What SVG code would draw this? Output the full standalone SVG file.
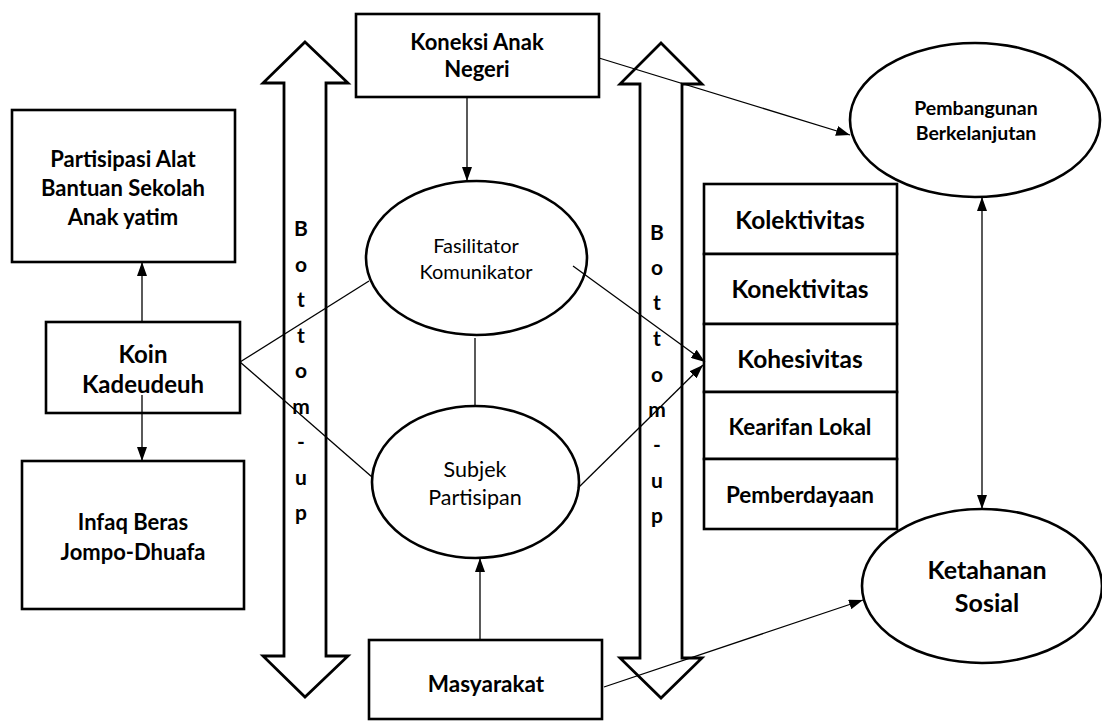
<svg xmlns="http://www.w3.org/2000/svg" width="1102" height="722" viewBox="0 0 1102 722">
<defs>
<style>
.box{fill:#fff;stroke:#000;stroke-width:2.6}
.ell{fill:#fff;stroke:#000;stroke-width:2.6}
.big{fill:#fff;stroke:#000;stroke-width:2.8;stroke-linejoin:miter}
.ln{fill:none;stroke:#000;stroke-width:1.3}
.t{font-family:Lato,"Liberation Sans",sans-serif;font-weight:bold;fill:#000;text-anchor:middle}
.r{font-family:Lato,"Liberation Sans",sans-serif;font-weight:normal;fill:#000;text-anchor:middle}
</style>
<marker id="ah" viewBox="0 0 14 10" refX="14" refY="5" markerWidth="14" markerHeight="10" markerUnits="userSpaceOnUse" orient="auto-start-reverse">
<path d="M0,0 L14,5 L0,10 Z" fill="#000"/>
</marker>
</defs>
<rect width="1102" height="722" fill="#fff"/>

<g id="bottomup-left">
<polygon class="big" points="305,42 348,83 326,83 326,656 348,656 305,697 263,656 284,656 284,83 263,83"/>
<g class="t" font-size="21">
<text x="301" y="236">B</text><text x="301" y="272">o</text><text x="301" y="307">t</text><text x="301" y="343">t</text><text x="301" y="378">o</text><text x="301" y="414">m</text><text x="301" y="449">-</text><text x="301" y="485">u</text><text x="301" y="520">p</text>
</g>
</g>
<g id="bottomup-right">
<polygon class="big" points="661,43 702,84 682,84 682,658 702,658 661,698 620,658 640,658 640,84 620,84"/>
<g class="t" font-size="21">
<text x="657" y="240">B</text><text x="657" y="275">o</text><text x="657" y="310">t</text><text x="657" y="346">t</text><text x="657" y="382">o</text><text x="657" y="417">m</text><text x="657" y="452">-</text><text x="657" y="488">u</text><text x="657" y="523">p</text>
</g>
</g>

<g id="koneksi">
<rect class="box" x="356" y="14" width="243" height="83"/>
<text class="t" font-size="22" x="477" y="50">Koneksi Anak</text>
<text class="t" font-size="22" x="477" y="77">Negeri</text>
</g>
<g id="partisipasi">
<rect class="box" x="12" y="110" width="223" height="152"/>
<text class="t" font-size="22" x="123" y="167">Partisipasi Alat</text>
<text class="t" font-size="22" x="123" y="196">Bantuan Sekolah</text>
<text class="t" font-size="22" x="123" y="225">Anak yatim</text>
</g>
<g id="koin">
<rect class="box" x="46" y="322" width="194" height="91"/>
<text class="t" font-size="24" x="143" y="363">Koin</text>
<text class="t" font-size="24" x="143" y="393">Kadeudeuh</text>
</g>
<g id="infaq">
<rect class="box" x="22" y="461" width="222" height="148"/>
<text class="t" font-size="22" x="133" y="530">Infaq Beras</text>
<text class="t" font-size="22" x="133" y="560">Jompo-Dhuafa</text>
</g>
<g id="fasilitator">
<ellipse class="ell" cx="476.5" cy="258" rx="110.5" ry="77"/>
<text class="r" font-size="20" x="476" y="253">Fasilitator</text>
<text class="r" font-size="20" x="476" y="279">Komunikator</text>
</g>
<g id="subjek">
<ellipse class="ell" cx="475.5" cy="482" rx="103.5" ry="76"/>
<text class="r" font-size="21.5" x="475" y="477">Subjek</text>
<text class="r" font-size="21.5" x="475" y="505">Partisipan</text>
</g>
<g id="masyarakat">
<rect class="box" x="369" y="640" width="233" height="79"/>
<text class="t" font-size="22.5" x="486" y="692">Masyarakat</text>
</g>
<g id="pembangunan">
<ellipse class="ell" cx="975" cy="120" rx="125" ry="77"/>
<text class="t" font-size="19.5" x="976" y="115">Pembangunan</text>
<text class="t" font-size="19.5" x="976" y="140">Berkelanjutan</text>
</g>
<g id="ketahanan">
<ellipse class="ell" cx="982" cy="586" rx="120" ry="77"/>
<text class="t" font-size="25" x="987" y="579">Ketahanan</text>
<text class="t" font-size="25" x="987" y="612">Sosial</text>
</g>
<g id="kolektivitas">
<rect class="box" x="704" y="184" width="193" height="70"/>
<text class="t" font-size="24.5" x="800" y="229">Kolektivitas</text>
</g>
<g id="konektivitas">
<rect class="box" x="704" y="254" width="193" height="70"/>
<text class="t" font-size="24.5" x="800" y="298">Konektivitas</text>
</g>
<g id="kohesivitas">
<rect class="box" x="704" y="324" width="193" height="68"/>
<text class="t" font-size="24.5" x="800" y="368">Kohesivitas</text>
</g>
<g id="kearifan">
<rect class="box" x="704" y="392" width="193" height="67"/>
<text class="t" font-size="22.5" x="800" y="435">Kearifan Lokal</text>
</g>
<g id="pemberdayaan">
<rect class="box" x="704" y="459" width="193" height="70"/>
<text class="t" font-size="22.5" x="800" y="503">Pemberdayaan</text>
</g>

<g id="connectors">
<line class="ln" x1="467" y1="97" x2="467" y2="181" marker-end="url(#ah)"/>
<line class="ln" x1="599" y1="58" x2="850" y2="135" marker-end="url(#ah)"/>
<line class="ln" x1="142" y1="322" x2="142" y2="262" marker-end="url(#ah)"/>
<line class="ln" x1="142" y1="395" x2="142" y2="461" marker-end="url(#ah)"/>
<line class="ln" x1="240" y1="362" x2="369" y2="281"/>
<line class="ln" x1="240" y1="362" x2="372" y2="477"/>
<line class="ln" x1="475" y1="338" x2="475" y2="407"/>
<line class="ln" x1="573" y1="266" x2="705" y2="362" marker-end="url(#ah)"/>
<line class="ln" x1="578" y1="488" x2="703" y2="365" marker-end="url(#ah)"/>
<line class="ln" x1="480" y1="640" x2="480" y2="558" marker-end="url(#ah)"/>
<line class="ln" x1="604" y1="687" x2="863" y2="600" marker-end="url(#ah)"/>
<line class="ln" x1="982" y1="197" x2="982" y2="509" marker-start="url(#ah)" marker-end="url(#ah)"/>
</g>
</svg>
